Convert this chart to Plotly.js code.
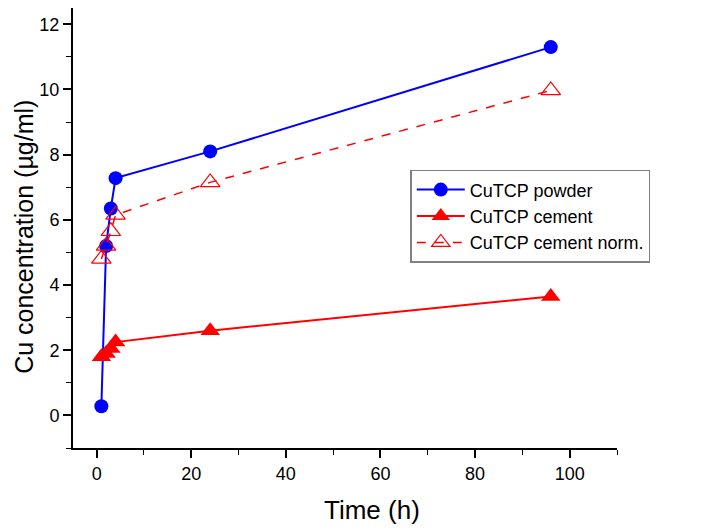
<!DOCTYPE html>
<html><head><meta charset="utf-8">
<script src="https://cdn.plot.ly/plotly-3.0.1.min.js"></script>
<style>body{margin:0;background:#fff}#c{width:704px;height:531px}</style>
</head><body><div id="c"></div>
<script>
const time = [1, 2, 3, 4, 24, 96];
const powder = [0.28, 5.2, 6.35, 7.28, 8.1, 11.3];
const cement = [1.8, 1.9, 2.05, 2.25, 2.6, 3.65];
const cementNorm = [4.8, 5.2, 5.65, 6.15, 7.15, 9.97];
const seriesNames = ["CuTCP powder", "CuTCP cement", "CuTCP cement norm."];
const xTitle = "Time (h)";
const yTitle = "Cu concentration (µg/ml)";

const traces = [
  {x: time, y: powder, name: seriesNames[0], mode: "lines+markers",
   line: {color: "#0000ff", width: 2}, marker: {symbol: "circle", size: 14, color: "#0000ff"}},
  {x: time, y: cement, name: seriesNames[1], mode: "lines+markers",
   line: {color: "#ff0000", width: 2}, marker: {symbol: "triangle-up", size: 17, color: "#ff0000"}},
  {x: time, y: cementNorm, name: seriesNames[2], mode: "lines+markers",
   line: {color: "#ff0000", width: 1.5, dash: "dash"},
   marker: {symbol: "triangle-up-open", size: 17, color: "#ff0000", line: {width: 1.2}}}
];
const fam = "Liberation Sans, Arial, sans-serif";
const layout = {
  width: 704, height: 531,
  margin: {l: 73, r: 87, t: 8, b: 83},
  paper_bgcolor: "#fff", plot_bgcolor: "#fff",
  font: {family: fam, color: "#000"},
  showlegend: true,
  legend: {x: 0.62, y: 0.632, xanchor: "left", yanchor: "top",
           bordercolor: "#808080", borderwidth: 1.5, bgcolor: "#fff",
           font: {family: fam, size: 18, color: "#000"}, tracegroupgap: 0, itemwidth: 48},
  xaxis: {range: [-5, 110], showgrid: false, zeroline: false, showline: true, linecolor: "#000", linewidth: 2,
          ticks: "outside", ticklen: 8, tickwidth: 1.5, tickcolor: "#000", dtick: 20, tick0: 0,
          tickfont: {size: 18, family: fam},
          minor: {dtick: 10, tick0: 0, ticks: "outside", ticklen: 5, tickwidth: 1.2, tickcolor: "#000"}},
  yaxis: {range: [-1, 12.5], showgrid: false, zeroline: false, showline: true, linecolor: "#000", linewidth: 2,
          ticks: "outside", ticklen: 8, tickwidth: 1.5, tickcolor: "#000", dtick: 2, tick0: 0,
          tickfont: {size: 18, family: fam},
          minor: {dtick: 1, tick0: 0, ticks: "outside", ticklen: 5, tickwidth: 1.2, tickcolor: "#000"}},
  annotations: [
    {text: xTitle, xref: "paper", yref: "paper", x: 0.55, y: -0.14, xanchor: "center", yanchor: "middle",
     showarrow: false, font: {family: fam, size: 26, color: "#000"}},
    {text: yTitle, xref: "paper", yref: "paper", x: -0.09, y: 0.48, xanchor: "center", yanchor: "middle",
     textangle: -90, showarrow: false, font: {family: fam, size: 25, color: "#000"}}
  ]
};
Plotly.newPlot("c", traces, layout, {displayModeBar: false});
</script></body></html>
